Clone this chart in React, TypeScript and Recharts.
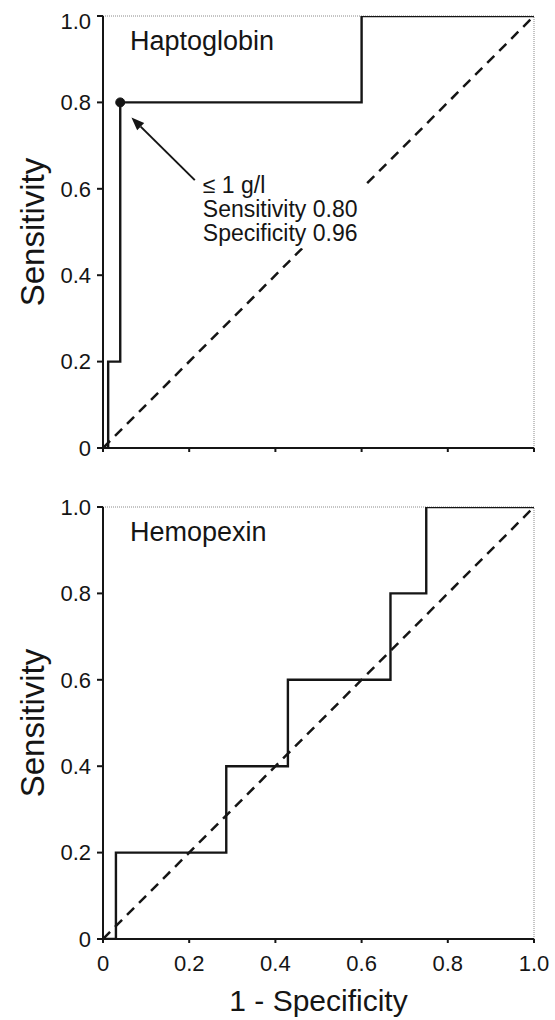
import React from 'react';
import { ComposedChart, Line, XAxis, YAxis, ReferenceLine, ReferenceDot } from 'recharts';

const axisTicks = [0, 0.2, 0.4, 0.6, 0.8, 1.0];

const haptoX = [0, 0.012, 0.012, 0.04, 0.04, 0.6, 0.6, 1.0];
const haptoY = [0, 0, 0.2, 0.2, 0.8, 0.8, 1.0, 1.0];

const hemoX = [0, 0.03, 0.03, 0.286, 0.286, 0.429, 0.429, 0.667, 0.667, 0.75, 0.75, 1.0];
const hemoY = [0, 0, 0.2, 0.2, 0.4, 0.4, 0.6, 0.6, 0.8, 0.8, 1.0, 1.0];

const diagX = [0, 1];
const diagY = [0, 1];

const cutoffPoint = { x: 0.04, y: 0.8 };
const arrowTail = { x: 0.213, y: 0.62 };
const arrowHead = { x: 0.066, y: 0.765 };
const annotationLines = ['\u2264 1 g/l', 'Sensitivity 0.80', 'Specificity 0.96'];

const titles = ['Haptoglobin', 'Hemopexin'];
const xLabel = '1 - Specificity';
const yLabel = 'Sensitivity';

const toPoints = (xs: number[], ys: number[]) => xs.map((x, i) => ({ x, y: ys[i] }));

const FONT = '"Liberation Sans", Arial, sans-serif';
const INK = '#151515';

const fmt = (v: number) => (v === 0 ? '0' : v.toFixed(1));

const ArrowShape = (props: any) => {
  const { x1, y1, x2, y2 } = props;
  const dx = x2 - x1;
  const dy = y2 - y1;
  const len = Math.sqrt(dx * dx + dy * dy) || 1;
  const ux = dx / len;
  const uy = dy / len;
  const hl = 13;
  const hw = 5;
  const bx = x2 - ux * hl;
  const by = y2 - uy * hl;
  const px = -uy;
  const py = ux;
  return (
    <g>
      <rect x={x1 + 3} y={y1 + 2} width={168} height={66} fill="#ffffff" />
      <line x1={x1} y1={y1} x2={bx} y2={by} stroke={INK} strokeWidth={2} />
      <polygon
        points={`${x2},${y2} ${bx + px * hw},${by + py * hw} ${bx - px * hw},${by - py * hw}`}
        fill={INK}
      />
      {annotationLines.map((t, i) => (
        <text key={i} x={x1 + 8} y={y1 + 13 + i * 24} fontSize={23} fontFamily={FONT} fill={INK}>
          {t}
        </text>
      ))}
    </g>
  );
};

type PanelProps = {
  title: string;
  roc: { x: number; y: number }[];
  height: number;
  margin: { top: number; right: number; left: number; bottom: number };
  showXLabels: boolean;
  annotate: boolean;
};

const Panel = ({ title, roc, height, margin, showXLabels, annotate }: PanelProps) => (
  <ComposedChart width={547} height={height} margin={margin}>
    <XAxis
      type="number"
      dataKey="x"
      domain={[0, 1]}
      ticks={axisTicks}
      tickFormatter={showXLabels ? fmt : () => ''}
      height={showXLabels ? 81 : 20}
      axisLine={{ stroke: INK, strokeWidth: 2 }}
      tickLine={{ stroke: INK, strokeWidth: 2 }}
      tickSize={4}
      tickMargin={12}
      tick={{ fill: INK, fontSize: 22, fontFamily: FONT }}
      allowDataOverflow
      label={
        showXLabels
          ? {
              content: (p: any) => {
                const vb = p.viewBox || {};
                return (
                  <text
                    x={vb.x + vb.width / 2}
                    y={vb.y + 61}
                    textAnchor="middle"
                    dominantBaseline="central"
                    fontSize={30}
                    fontFamily={FONT}
                    fill={INK}
                  >
                    {xLabel}
                  </text>
                );
              },
            }
          : undefined
      }
    />
    <YAxis
      type="number"
      dataKey="y"
      domain={[0, 1]}
      ticks={axisTicks}
      tickFormatter={fmt}
      width={95}
      axisLine={{ stroke: INK, strokeWidth: 2 }}
      tickLine={{ stroke: INK, strokeWidth: 2 }}
      tickSize={6}
      tickMargin={6}
      tick={{ fill: INK, fontSize: 22, fontFamily: FONT }}
      allowDataOverflow
      label={{
        content: (p: any) => {
          const vb = p.viewBox || {};
          const cx = 24;
          const cy = vb.y + vb.height / 2;
          return (
            <text
              x={cx}
              y={cy}
              transform={`rotate(-90, ${cx}, ${cy})`}
              textAnchor="middle"
              dominantBaseline="central"
              fontSize={33}
              fontFamily={FONT}
              fill={INK}
            >
              {yLabel}
            </text>
          );
        },
      }}
    />
    <ReferenceLine
      y={1}
      stroke="#8a8a8a"
      strokeWidth={1}
      strokeDasharray="1 1"
      label={{
        content: (p: any) => {
          const vb = p.viewBox || {};
          return (
            <text x={vb.x + 27} y={vb.y + 34} fontSize={27} fontFamily={FONT} fill={INK}>
              {title}
            </text>
          );
        },
      }}
    />
    <ReferenceLine x={1} stroke="#8a8a8a" strokeWidth={1} strokeDasharray="1 1" />
    <Line
      data={toPoints(diagX, diagY)}
      dataKey="y"
      type="linear"
      stroke={INK}
      strokeWidth={2.5}
      strokeDasharray="10 7"
      dot={false}
      activeDot={false}
      isAnimationActive={false}
    />
    <Line
      data={roc}
      dataKey="y"
      type="linear"
      stroke={INK}
      strokeWidth={2.4}
      dot={false}
      activeDot={false}
      isAnimationActive={false}
    />
    {annotate && (
      <ReferenceDot x={cutoffPoint.x} y={cutoffPoint.y} r={4.5} fill={INK} stroke={INK} />
    )}
    {annotate && (
      <ReferenceLine
        segment={[arrowTail, arrowHead]}
        stroke={INK}
        shape={ArrowShape}
      />
    )}
  </ComposedChart>
);

export default function App() {
  return (
    <div style={{ position: 'fixed', top: 8, left: 8, width: 547, height: 1012, background: '#fff' }}>
      <Panel
        title={titles[0]}
        roc={toPoints(haptoX, haptoY)}
        height={460}
        margin={{ top: 8, right: 21, left: 0, bottom: 0 }}
        showXLabels={false}
        annotate={true}
      />
      <Panel
        title={titles[1]}
        roc={toPoints(hemoX, hemoY)}
        height={552}
        margin={{ top: 39, right: 21, left: 0, bottom: 0 }}
        showXLabels={true}
        annotate={false}
      />
    </div>
  );
}
